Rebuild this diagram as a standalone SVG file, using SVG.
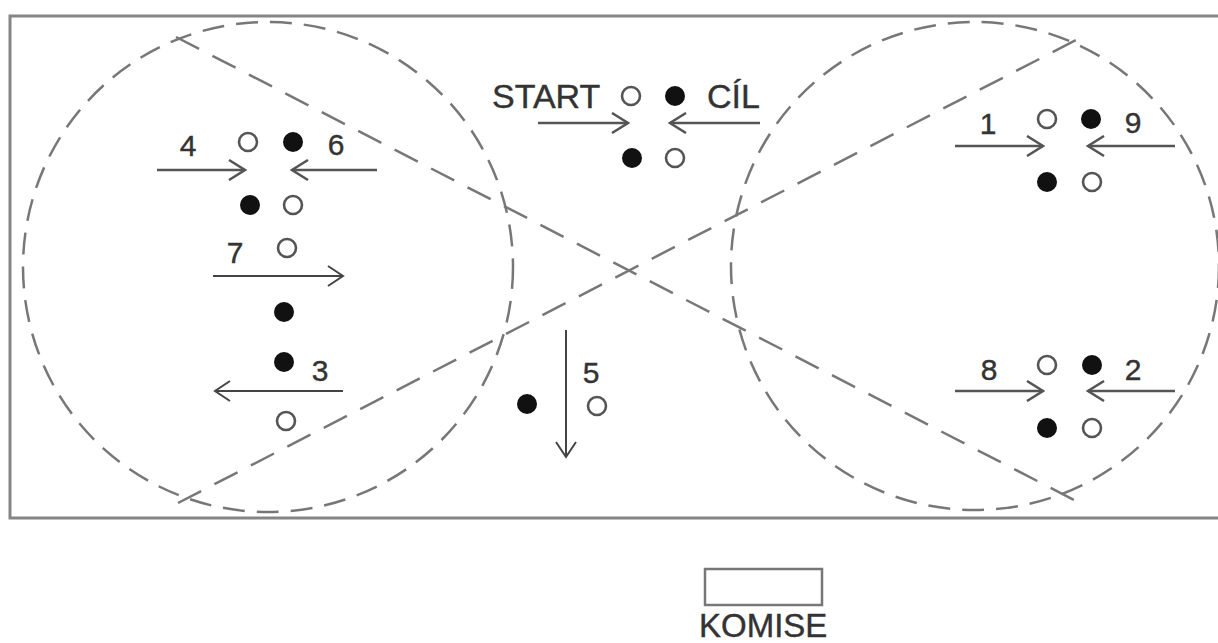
<svg xmlns="http://www.w3.org/2000/svg" width="1218" height="643" viewBox="0 0 1218 643">
<style>
.t{font-family:"Liberation Sans",Arial,sans-serif;fill:#333;stroke:#333;stroke-width:0.4;}
.d{font-size:30px;text-anchor:middle;}
.w{font-size:34px;}
.f{fill:#111;}
.h{fill:#fff;stroke:#555;stroke-width:2.6;}
.dash{fill:none;stroke:#777;stroke-width:2.5;}
.c{stroke-dasharray:22 12;}
.l{stroke-dasharray:26 15;}
.a{stroke:#555;stroke-width:2.5;fill:none;marker-end:url(#ah);}
.a2{stroke:#444;stroke-width:2;fill:none;marker-end:url(#ah2);}
</style>
<defs>
<marker id="ah" viewBox="0 0 20 22" refX="18" refY="11" markerWidth="20" markerHeight="22" markerUnits="userSpaceOnUse" orient="auto"><path d="M2,1 L18,11 L2,21" fill="none" stroke="#555" stroke-width="2.5"/></marker>
<marker id="ah2" viewBox="0 0 20 22" refX="18" refY="11" markerWidth="20" markerHeight="22" markerUnits="userSpaceOnUse" orient="auto"><path d="M3,1 L18,11 L3,21" fill="none" stroke="#444" stroke-width="2"/></marker>
</defs>
<rect width="1218" height="643" fill="#fff"/>
<g id="field">
<rect x="10" y="16" width="1240" height="502" fill="none" stroke="#858585" stroke-width="3"/>
<circle class="dash c" cx="268" cy="267" r="245"/>
<circle class="dash c" cx="975" cy="266" r="244"/>
<line class="dash l" x1="176" y1="37" x2="1080" y2="503"/>
<line class="dash l" x1="178" y1="503" x2="1080" y2="38"/>
</g>
<g id="station-4-6">
<text class="t d" x="188" y="156">4</text>
<circle class="h" cx="248" cy="142" r="9"/>
<circle class="f" cx="293" cy="142" r="10"/>
<text class="t d" x="336" y="155">6</text>
<circle class="f" cx="250" cy="205" r="10"/>
<circle class="h" cx="293" cy="205" r="9"/>
</g>
<g id="station-start">
<text class="t w" x="492" y="108">START</text>
<circle class="h" cx="631" cy="96" r="9"/>
<circle class="f" cx="675" cy="96" r="10"/>
<text class="t w" x="707" y="108">CÍL</text>
<circle class="f" cx="632" cy="158" r="10"/>
<circle class="h" cx="675" cy="158" r="9"/>
</g>
<g id="station-7-3">
<text class="t d" x="235" y="263">7</text>
<circle class="h" cx="287" cy="248" r="9"/>
<circle class="f" cx="284" cy="312" r="10"/>
<circle class="f" cx="284" cy="362" r="10"/>
<text class="t d" x="320" y="381">3</text>
<circle class="h" cx="286" cy="421" r="9"/>
</g>
<g id="station-5">
<circle class="f" cx="527" cy="404" r="10"/>
<text class="t d" x="591" y="383">5</text>
<circle class="h" cx="597" cy="406" r="9"/>
</g>
<g id="station-1-9">
<text class="t d" x="988" y="134">1</text>
<circle class="h" cx="1047" cy="119" r="9"/>
<circle class="f" cx="1091" cy="119" r="10"/>
<text class="t d" x="1133" y="133">9</text>
<circle class="f" cx="1047" cy="182" r="10"/>
<circle class="h" cx="1092" cy="182" r="9"/>
</g>
<g id="station-8-2">
<text class="t d" x="989" y="380">8</text>
<circle class="h" cx="1047" cy="365" r="9"/>
<circle class="f" cx="1092" cy="365" r="10"/>
<text class="t d" x="1133" y="380">2</text>
<circle class="f" cx="1047" cy="428" r="10"/>
<circle class="h" cx="1092" cy="428" r="9"/>
</g>
<g id="komise">
<rect x="705" y="569" width="117" height="36" fill="#fff" stroke="#777" stroke-width="2.5"/>
<text class="t" x="699" y="637" style="font-size:33px">KOMISE</text>
</g>
<g id="connectors">
<line class="a" x1="157" y1="170" x2="245" y2="170"/>
<line class="a" x1="377" y1="170" x2="292" y2="170"/>
<line class="a" x1="538" y1="123" x2="628" y2="123"/>
<line class="a" x1="760" y1="123" x2="670" y2="123"/>
<line class="a2" x1="213" y1="276" x2="343" y2="276"/>
<line class="a2" x1="343" y1="391" x2="215" y2="391"/>
<line class="a2" x1="566" y1="330" x2="566" y2="457"/>
<line class="a" x1="955" y1="146" x2="1043" y2="146"/>
<line class="a" x1="1175" y1="146" x2="1088" y2="146"/>
<line class="a" x1="955" y1="391" x2="1043" y2="391"/>
<line class="a" x1="1175" y1="391" x2="1088" y2="391"/>
</g>
</svg>
